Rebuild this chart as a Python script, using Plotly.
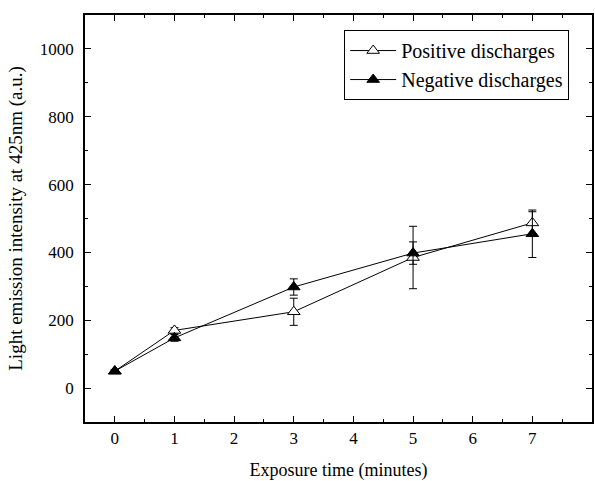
import plotly.graph_objects as go

time_min = [0, 1, 3, 5, 7]
positive = [50, 170, 225, 385, 487]
positive_err = [5, 8, 40, 92, 33]
negative = [50, 148, 298, 398, 455]
negative_err = [5, 10, 24, 33, 70]

x_ticks = [0, 1, 2, 3, 4, 5, 6, 7, 8]
y_ticks = [0, 200, 400, 600, 800, 1000]

font_family = "Times New Roman, Liberation Serif, Times, serif"

fig = go.Figure()
fig.add_trace(go.Scatter(
    x=time_min, y=positive, name="Positive discharges",
    mode="lines+markers",
    line=dict(color="black", width=1),
    marker=dict(symbol="triangle-up", size=11, color="white",
                line=dict(color="black", width=1)),
    error_y=dict(type="data", array=positive_err, visible=True,
                 color="black", thickness=1, width=4),
))
fig.add_trace(go.Scatter(
    x=time_min, y=negative, name="Negative discharges",
    mode="lines+markers",
    line=dict(color="black", width=1),
    marker=dict(symbol="triangle-up", size=11, color="black",
                line=dict(color="black", width=1)),
    error_y=dict(type="data", array=negative_err, visible=True,
                 color="black", thickness=1, width=4),
))

tick_font = dict(family=font_family, size=17, color="black")

fig.update_xaxes(
    range=[-0.5, 8], tickmode="array", tickvals=x_ticks,
    ticktext=[str(v) for v in x_ticks],
    showgrid=False, zeroline=False, showline=True, linecolor="black",
    linewidth=1.5, mirror="ticks", ticks="inside", ticklen=6,
    tickwidth=1, tickcolor="black", tickfont=tick_font,
    minor=dict(dtick=0.5, ticks="inside", ticklen=3, tickcolor="black"),
    title=dict(text="Exposure time (minutes)",
               font=dict(family=font_family, size=18, color="black"), standoff=16),
    automargin=False,
)
fig.update_yaxes(
    range=[-100, 1100], tickmode="array", tickvals=y_ticks,
    ticktext=[str(v) for v in y_ticks],
    showgrid=False, zeroline=False, showline=True, linecolor="black",
    linewidth=1.5, mirror="ticks", ticks="inside", ticklen=6,
    tickwidth=1, tickcolor="black", tickfont=tick_font,
    ticklabelstandoff=6,
    minor=dict(dtick=100, ticks="inside", ticklen=3, tickcolor="black"),
    title=dict(text="Light emission intensity at 425nm (a.u.)",
               font=dict(family=font_family, size=19, color="black"), standoff=12),
    automargin=False,
)

fig.update_layout(
    width=595, height=481,
    margin=dict(l=85, r=3, t=15, b=59),
    plot_bgcolor="white", paper_bgcolor="white",
    font=dict(family=font_family, color="black"),
    showlegend=True,
    legend=dict(
        x=0.955, y=0.963, xanchor="right", yanchor="top",
        bordercolor="black", borderwidth=1, bgcolor="white",
        font=dict(family=font_family, size=20, color="black"),
        tracegroupgap=0, itemwidth=46,
    ),
)

fig.write_html("out.html", config={"displayModeBar": False},
               post_script="document.body.style.margin='0';")
